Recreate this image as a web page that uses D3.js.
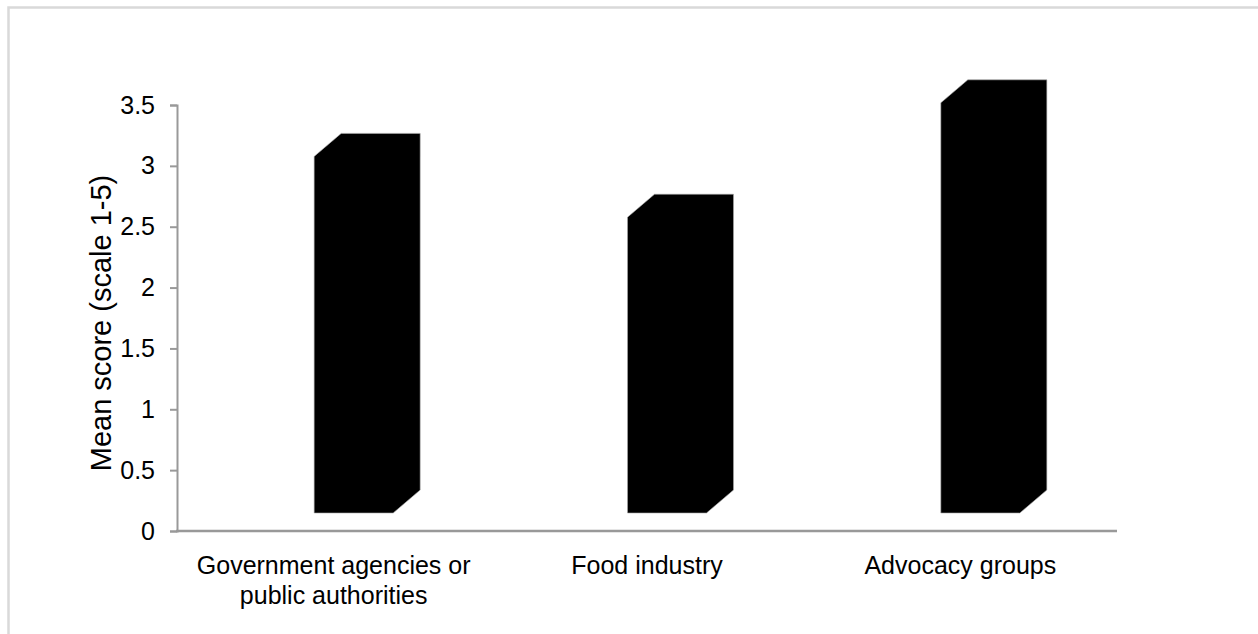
<!DOCTYPE html>
<html>
<head>
<meta charset="utf-8">
<script src="https://cdn.jsdelivr.net/npm/d3@7"></script>
<style>
  body { margin: 0; background: #fff; }
  text { font-family: "Liberation Sans", Arial, sans-serif; fill: #000; }
</style>
</head>
<body>
<div id="chart"></div>
<script>
// Data
const categories = [["Government agencies or", "public authorities"], ["Food industry"], ["Advocacy groups"]];
const values = [2.93, 2.43, 3.37];
const tickValues = [0, 0.5, 1, 1.5, 2, 2.5, 3, 3.5];
const yTitle = "Mean score (scale 1-5)";

const width = 1258, height = 634;
const axisLeft = 177, axisRight = 1117, axisBottom = 531, axisTop = 105;

const svg = d3.select('#chart').append('svg')
  .attr('width', width)
  .attr('height', height);

// Chart frame (only top and left edges fall inside the picture)
svg.append('rect')
  .attr('x', 8.5).attr('y', 7.5)
  .attr('width', width + 20).attr('height', height + 20)
  .attr('fill', 'none')
  .attr('stroke', '#d9d9d9')
  .attr('stroke-width', 2.5);

// Scales
const x = d3.scaleBand()
  .domain(d3.range(categories.length))
  .range([axisLeft, axisRight]);

const y = d3.scaleLinear()
  .domain([0, 3.5])
  .range([axisBottom, axisTop]);

// 3D column geometry
const faceWidth = 79, faceShift = 20, floorLift = 18, depthX = 27, depthY = 23;

const barPath = (d, i) => {
  const cx = x(i) + x.bandwidth() / 2 + faceShift;
  const x0 = cx - faceWidth / 2, x1 = cx + faceWidth / 2;
  const yb = y(0) - floorLift, yt = y(d) - floorLift;
  return `M${x0},${yb}L${x0},${yt}L${x0 + depthX},${yt - depthY}L${x1 + depthX},${yt - depthY}` +
    `L${x1 + depthX},${yb - depthY}L${x1},${yb}Z`;
};

svg.append('g').selectAll('path')
  .data(values)
  .join('path')
  .attr('d', barPath)
  .attr('fill', '#000')
  .attr('stroke', '#aaa')
  .attr('stroke-width', 0.6);

// Y axis
const yAxis = svg.append('g')
  .attr('transform', `translate(${axisLeft},0)`)
  .call(d3.axisLeft(y).tickValues(tickValues).tickSize(7).tickPadding(15).tickFormat(d3.format('')));
yAxis.select('.domain').attr('stroke', '#999').attr('stroke-width', 2);
yAxis.selectAll('.tick line').attr('stroke', '#999').attr('stroke-width', 2);
yAxis.selectAll('.tick text')
  .style('font-size', '25px')
  .style('font-family', '"Liberation Sans", Arial, sans-serif')
  .attr('fill', '#000');

// X axis line
svg.append('line')
  .attr('x1', axisLeft - 1).attr('x2', axisRight)
  .attr('y1', axisBottom).attr('y2', axisBottom)
  .attr('stroke', '#999')
  .attr('stroke-width', 2.5);

// Category labels
const labels = svg.append('g').selectAll('text')
  .data(categories)
  .join('text')
  .attr('x', (d, i) => x(i) + x.bandwidth() / 2)
  .attr('y', 574)
  .attr('text-anchor', 'middle')
  .style('font-size', '25px');
labels.selectAll('tspan')
  .data(d => d)
  .join('tspan')
  .attr('x', function () { return this.parentNode.getAttribute('x'); })
  .attr('dy', (d, i) => i === 0 ? 0 : 30)
  .text(d => d);

// Y axis title
svg.append('text')
  .attr('transform', `translate(111,${(170 + 476) / 2}) rotate(-90)`)
  .attr('text-anchor', 'middle')
  .style('font-size', '29px')
  .text(yTitle);
</script>
</body>
</html>
